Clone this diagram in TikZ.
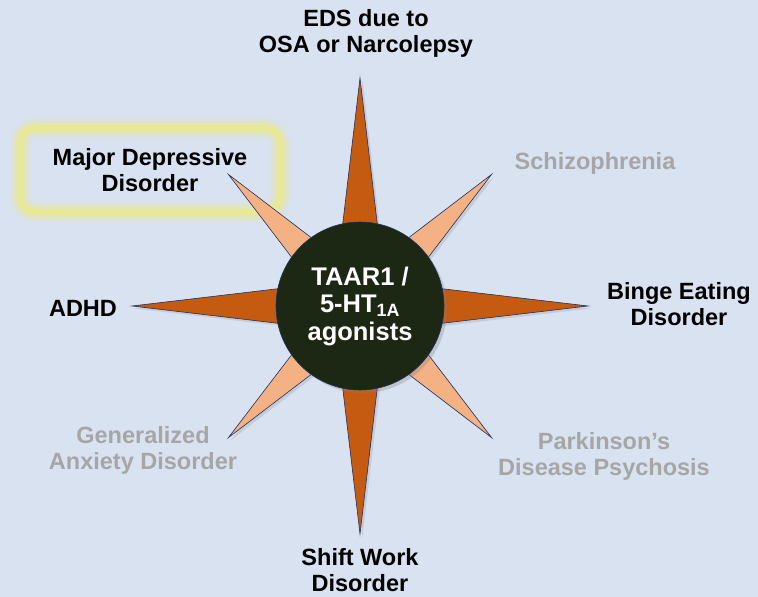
\documentclass[tikz,border=0pt]{standalone}
\usepackage{fontspec}
\setmainfont{Liberation Sans}
\usetikzlibrary{positioning,calc,shadows}
\definecolor{tbg}{HTML}{D9E2F1}
\definecolor{tdark}{HTML}{C55A11}
\definecolor{tpeach}{HTML}{F4B183}
\definecolor{thub}{HTML}{1C2814}
\definecolor{tgrey}{HTML}{A6A6A6}
\definecolor{tglow}{HTML}{F0EC7E}
\definecolor{tedge}{HTML}{1F3060}

\begin{document}
\begin{tikzpicture}[x=1pt, y=-1pt, font=\fontsize{23.5}{26}\selectfont\bfseries,
  lbl/.style={align=center, text=black},
  dim/.style={align=center, text=tgrey},
  ray/.style={draw=tedge, line width=0.6pt, drop shadow={opacity=0.22, shadow xshift=2.5pt, shadow yshift=-2.5pt}},
  hubstyle/.style={circle, fill=thub, draw=tedge, line width=0.6pt, minimum size=168pt, inner sep=0pt,
    text=white, align=center, font=\fontsize{25.5}{27.5}\selectfont\bfseries,
    drop shadow={opacity=0.3, shadow xshift=3pt, shadow yshift=-3pt}}]
\fill[tbg] (0,0) rectangle (758,597);
\useasboundingbox (0,0) rectangle (758,597);
\coordinate (c) at (360,306);

% labels
\node[lbl] (eds) at (366,33) {EDS due to\\OSA or Narcolepsy};
\node[dim] (schizo) at (595,163) {Schizophrenia};
\node[lbl] (mdd) at (150,170) {Major Depressive\\Disorder};
\node[lbl] (adhd) at (83,308) {ADHD};
\node[lbl] (bed) at (679,304) {Binge Eating\\Disorder};
\node[dim] (pdp) at (604,456) {Parkinson’s\\Disease Psychosis};
\node[dim] (gad) at (143,450) {Generalized\\Anxiety Disorder};
\node[lbl] (swd) at (360,570) {Shift Work\\Disorder};

% yellow glow round the highlighted label
\foreach \w/\o in {22/0.08, 18/0.12, 14/0.18, 10/0.26, 6/0.38, 3/0.5}
  \draw[tglow, line width=\w pt, opacity=\o, rounded corners=16]
    ($(mdd.center)+(-130,-42)$) rectangle ($(mdd.center)+(130,42)$);

% short rays
\foreach \a in {45,135,225,315}
  \draw[ray, fill=tpeach] ($(c)+(\a:186)$) -- ($(c)+(\a+90:25)$) -- ($(c)+(\a-90:25)$) -- cycle;
% long rays
\foreach \a in {0,90,180,270}
  \draw[ray, fill=tdark] ($(c)+(\a:228)$) -- ($(c)+(\a+90:27)$) -- ($(c)+(\a-90:27)$) -- cycle;

\node[hubstyle] (hub) at (c) {TAAR1 /\\5-HT\textsubscript{1A}\\agonists};
\end{tikzpicture}
\end{document}
